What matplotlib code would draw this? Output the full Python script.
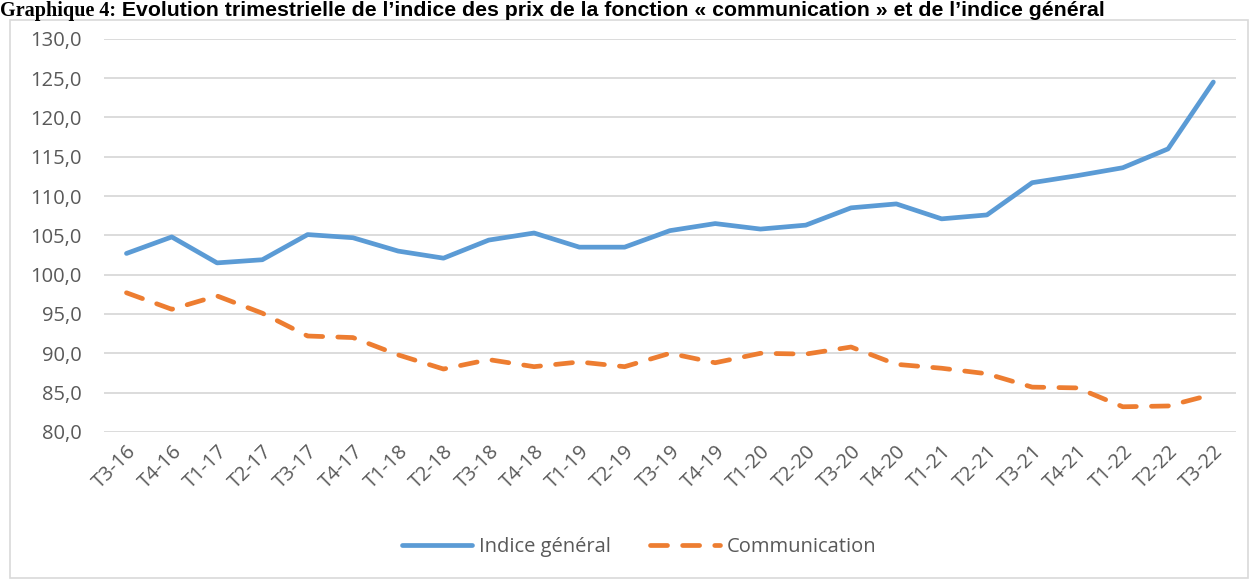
import matplotlib.pyplot as plt
from matplotlib.patches import Rectangle
from matplotlib.ticker import FuncFormatter

# Quarters
periodes = ['T3-16', 'T4-16', 'T1-17', 'T2-17', 'T3-17', 'T4-17', 'T1-18', 'T2-18',
            'T3-18', 'T4-18', 'T1-19', 'T2-19', 'T3-19', 'T4-19', 'T1-20', 'T2-20',
            'T3-20', 'T4-20', 'T1-21', 'T2-21', 'T3-21', 'T4-21', 'T1-22', 'T2-22', 'T3-22']

indice_general = [102.7, 104.8, 101.5, 101.9, 105.1, 104.7, 103.0, 102.1,
                  104.4, 105.3, 103.5, 103.5, 105.6, 106.5, 105.8, 106.3,
                  108.5, 109.0, 107.1, 107.6, 111.7, 112.6, 113.6, 116.0, 124.5]

communication = [97.7, 95.6, 97.3, 95.1, 92.2, 92.0, 89.8, 88.0,
                 89.2, 88.3, 88.9, 88.3, 90.0, 88.8, 90.0, 89.9,
                 90.8, 88.6, 88.1, 87.4, 85.7, 85.6, 83.2, 83.3, 84.8]

titre_debut = "Graphique 4:"
titre_suite = (" Evolution trimestrielle de l\u2019indice des prix de la fonction "
               "\u00ab communication \u00bb et de l\u2019indice général")

blue = '#5B9BD5'
orange = '#ED7D31'
grid_col = '#D9D9D9'
text_col = '#595959'

plt.rcParams['font.family'] = ['Open Sans', 'DejaVu Sans']

fig = plt.figure(figsize=(12.51, 5.79), dpi=100)
ax = fig.add_axes([0.083, 0.254, 0.905, 0.679])

x = range(len(periodes))
ax.plot(x, indice_general, color=blue, lw=3.4, solid_capstyle='round',
        solid_joinstyle='round', label='Indice général')
ax.plot(x, communication, color=orange, lw=3.4, linestyle=(0, (3.6, 3.2)),
        dash_capstyle='round', dash_joinstyle='round', label='Communication')

ax.set_ylim(80, 130)
ax.set_yticks(range(80, 131, 5))
ax.yaxis.set_major_formatter(FuncFormatter(lambda v, p: f'{v:.1f}'.replace('.', ',')))
ax.set_xlim(-0.5, len(periodes) - 0.5)
ax.set_xticks(list(x))
ax.set_xticklabels(periodes, rotation=45, ha='right', rotation_mode='anchor')

ax.grid(axis='y', color=grid_col, lw=1.3)
ax.set_axisbelow(True)
for s in ax.spines.values():
    s.set_visible(False)
ax.tick_params(length=0, labelsize=14.5, colors=text_col)
ax.tick_params(axis='y', pad=16)
ax.tick_params(axis='x', pad=7)

leg = fig.legend(loc='center', bbox_to_anchor=(0.511, 0.055), ncol=2, frameon=False,
                 fontsize=14.5, handlelength=3.5, columnspacing=1.9, handletextpad=0.35)
for t in leg.get_texts():
    t.set_color(text_col)

# chart border
fig.patches.append(Rectangle((0.008, 0.002), 0.99, 0.963, transform=fig.transFigure,
                             fill=False, edgecolor=grid_col, lw=1.2))

# title: serif prefix, sans-serif rest
t1 = fig.text(0.0, 0.972, titre_debut, family=['Liberation Serif', 'DejaVu Serif'],
              weight='bold', fontsize=14.5, va='baseline', ha='left', color='black')
fig.canvas.draw()
bb = t1.get_window_extent()
x2 = bb.x1 / fig.bbox.width
fig.text(x2, 0.972, titre_suite, family=['Liberation Sans', 'DejaVu Sans'],
         weight='bold', fontsize=15.3, va='baseline', ha='left', color='black')

fig.savefig('out.png', dpi=100)
